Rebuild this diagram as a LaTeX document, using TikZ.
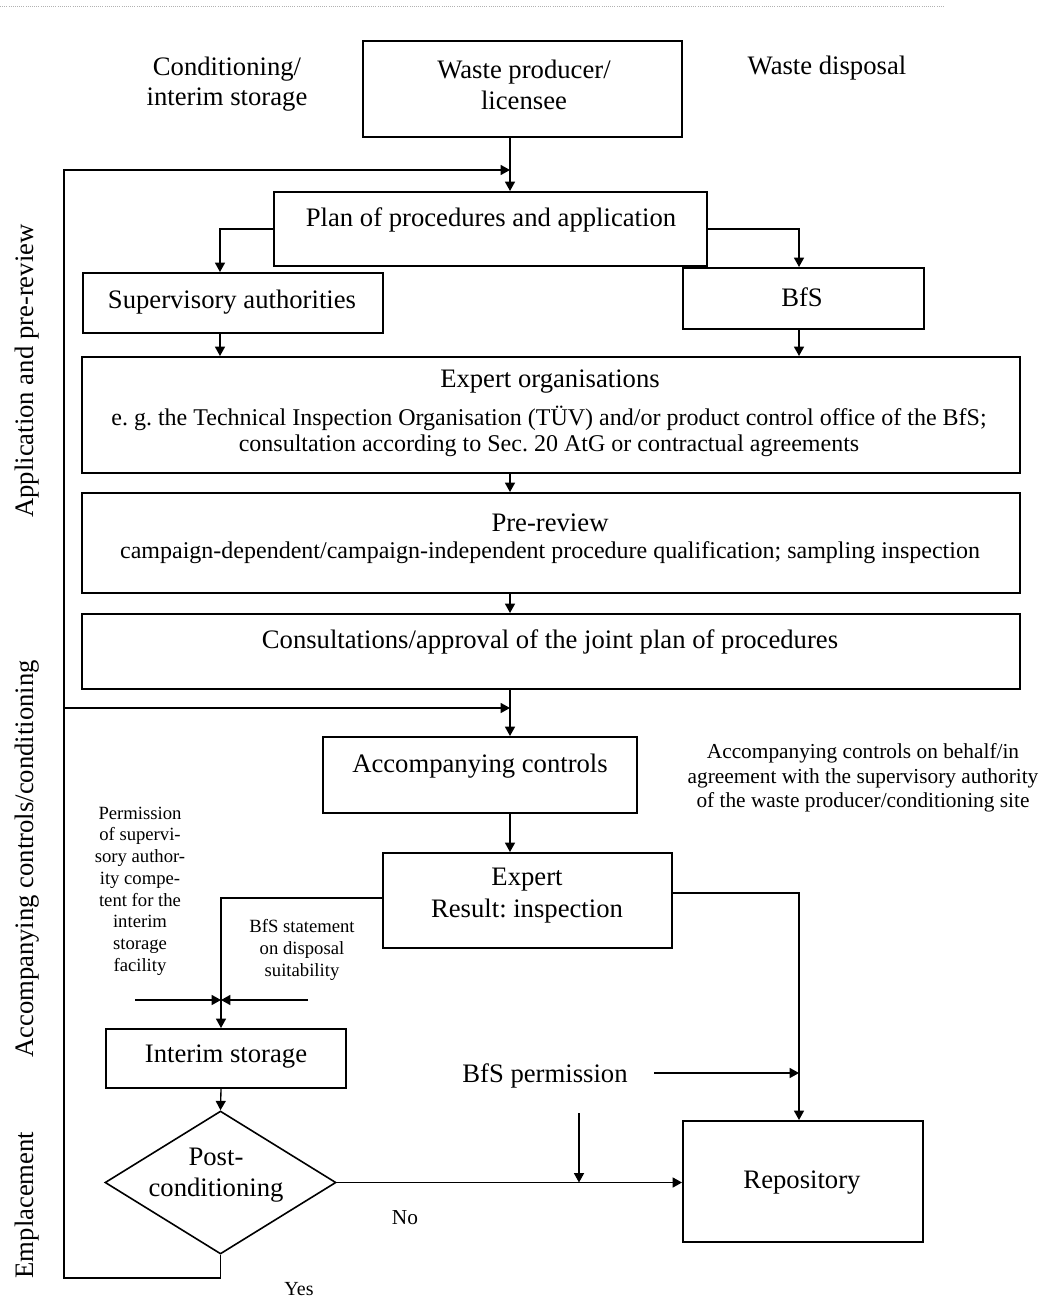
\documentclass[tikz,border=0pt]{standalone}
\usepackage{fontspec}
\setmainfont{Liberation Serif}
\usetikzlibrary{arrows.meta,shapes.geometric,calc}
\frenchspacing
\begin{document}
\begin{tikzpicture}[x=0.75pt,y=-0.75pt,
  box/.style={draw,line width=1.5pt,rectangle,inner sep=0pt},
  dia/.style={draw,line width=1.2pt,diamond,inner sep=0pt},
  txt/.style={inner sep=0pt,align=center,font=\fontsize{20}{23}\selectfont},
  det/.style={inner sep=0pt,align=center,font=\fontsize{18}{19.5}\selectfont},
  smalltxt/.style={inner sep=0pt,align=center,font=\fontsize{14}{16.3}\selectfont},
  notetxt/.style={inner sep=0pt,align=center,font=\fontsize{16}{18.4}\selectfont},
  conn/.style={line width=1pt},
  arr/.style={conn,-{Triangle[length=7pt,width=7.5pt]}},
  sidetxt/.style={txt,rotate=90}
]
\useasboundingbox (0,0) rectangle (1046,1301);
% faint dotted rule at top
\draw[gray!60,densely dotted,line width=0.6pt] (0,6) -- (943,6);

% helper columns
\coordinate (colM) at (510,0);
\coordinate (colL) at (64,0);
\coordinate (colS) at (220,0);
\coordinate (colB) at (799,0);
\coordinate (colI) at (221,0);

% boxes
\node[box,minimum width=239.25pt,minimum height=72pt] (waste) at (522.5,89) {};
\node[box,minimum width=324.75pt,minimum height=55.5pt] (plan) at (490.5,229) {};
\node[box,minimum width=225pt,minimum height=45pt] (sup) at (233,303) {};
\node[box,minimum width=180.75pt,minimum height=45.75pt] (bfs) at (803.5,298.5) {};
\node[box,minimum width=703.5pt,minimum height=87pt] (exporg) at (551,415) {};
\node[box,minimum width=703.5pt,minimum height=75pt] (prerev) at (551,543) {};
\node[box,minimum width=703.5pt,minimum height=56.25pt] (consult) at (551,651.5) {};
\node[box,minimum width=235.5pt,minimum height=57pt] (accomp) at (480,775) {};
\node[box,minimum width=216.75pt,minimum height=71.25pt] (expert) at (527.5,900.5) {};
\node[box,minimum width=180pt,minimum height=44.25pt] (interim) at (226,1058.5) {};
\node[dia,minimum width=173.25pt,minimum height=107.25pt] (diam) at (220.5,1182.5) {};
\node[box,minimum width=180pt,minimum height=90.75pt] (repo) at (803,1181.5) {};

% box texts
\node[txt] (wastet) at (524,85) {Waste producer/\\licensee};
\node[txt] (plant) at (491,220) {Plan of procedures and application};
\node[txt] (supt) at (232,302) {Supervisory authorities};
\node[txt] (bfst) at (802,297) {BfS};
\node[txt] (exporgA) at (550,382) {Expert organisations};
\node[det] (exporgB) at (549,431) {e. g. the Technical Inspection Organisation (TÜV) and/or product control office of the BfS;\\consultation according to Sec.~20 AtG or contractual agreements};
\node[txt] (prerevA) at (550,523) {Pre-review};
\node[det] (prerevB) at (550,553) {campaign-dependent/campaign-independent procedure qualification; sampling inspection};
\node[txt] (consultt) at (550,642) {Consultations/approval of the joint plan of procedures};
\node[txt] (accompt) at (480,766) {Accompanying controls};
\node[txt,font=\fontsize{20}{24}\selectfont] (expertt) at (527,896) {Expert\\Result: inspection};
\node[txt] (interimt) at (226,1057) {Interim storage};
\node[txt,font=\fontsize{20}{23.5}\selectfont] (diamt) at (216,1175) {Post-\\conditioning};
\node[txt] (repot) at (802,1183) {Repository};

% free labels
\node[txt,font=\fontsize{20}{22.5}\selectfont] (condl) at (227,84) {Conditioning/\\interim storage};
\node[txt] (displ) at (827,68) {Waste disposal};
\node[notetxt] (notel) at (863,778) {Accompanying controls on behalf/in\\agreement with the supervisory authority\\of the waste producer/conditioning site};
\node[smalltxt] (perml) at (140,891) {Permission\\of supervi-\\sory author-\\ity compe-\\tent for the\\interim\\storage\\facility};
\node[smalltxt,font=\fontsize{14}{16.5}\selectfont] (bfsstl) at (302,950) {BfS statement\\on disposal\\suitability};
\node[txt] (bfspl) at (545,1076) {BfS permission};
\node[txt,font=\fontsize{16}{18}\selectfont] (nol) at (405,1218) {No};
\node[txt,font=\fontsize{15}{18}\selectfont] (yesl) at (299,1289) {Yes};
\node[sidetxt] (side1) at (27,371) {Application and pre-review};
\node[sidetxt] (side2) at (27,859) {Accompanying controls/conditioning};
\node[sidetxt] (side3) at (27,1205) {Emplacement};

% feedback coordinates
\coordinate (fb1) at (64,170);
\coordinate (fb2) at (64,708);
\coordinate (fb3) at (64,1278);
\coordinate (pL) at (135,1000);
\coordinate (pR) at (308,1000);
\coordinate (pB) at (654,1073);
\coordinate (pD) at (579,1113);

% connectors
\draw[arr] (waste.south -| colM) -- (plan.north -| colM);
\draw[arr] (diam.south) |- (fb3) -- (fb1) -- (fb1 -| colM);
\draw[arr] (fb2) -- (fb2 -| colM);
\draw[arr] (plan.west) -| (sup.north -| colS);
\draw[arr] (plan.east) -| (bfs.north -| colB);
\draw[arr] (sup.south -| colS) -- (exporg.north -| colS);
\draw[arr] (bfs.south -| colB) -- (exporg.north -| colB);
\draw[arr] (exporg.south -| colM) -- (prerev.north -| colM);
\draw[arr] (prerev.south -| colM) -- (consult.north -| colM);
\draw[arr] (consult.south -| colM) -- (accomp.north -| colM);
\draw[arr] (accomp.south -| colM) -- (expert.north -| colM);
\draw[arr] ([yshift=1.9pt]expert.west) -| (interim.north -| colI);
\draw[arr] ([yshift=5.6pt]expert.east) -| (repo.north -| colB);
\draw[arr] (pL) -- (pL -| colI);
\draw[arr] (pR) -- (pR -| colI);
\draw[arr] (pB) -- (pB -| colB);
\draw[arr] (interim.south -| colI) -- (diam.north);
\draw[arr] (diam.east) -- (diam.east -| repo.west);
\draw[arr] (pD) -- (pD |- diam.east);
\end{tikzpicture}
\end{document}
